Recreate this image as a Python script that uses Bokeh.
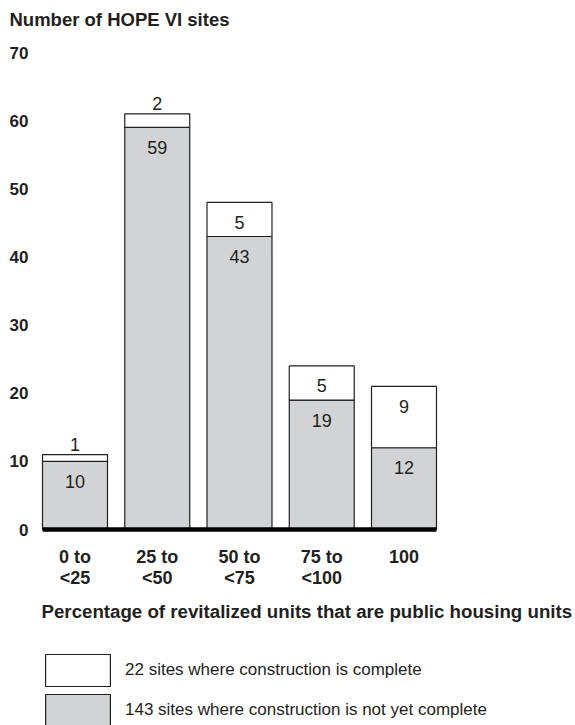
from bokeh.plotting import figure
from bokeh.models import Range1d, ColumnDataSource, Label, Legend, LegendItem
from bokeh.core.properties import value
from bokeh.embed import file_html
from bokeh.resources import INLINE

# ---- data ----
categories = ["0 to\n<25", "25 to\n<50", "50 to\n<75", "75 to\n<100", "100"]
not_complete = [10, 59, 43, 19, 12]
complete = [1, 2, 5, 5, 9]
y_ticks = [0, 10, 20, 30, 40, 50, 60, 70]
y_title = "Number of HOPE VI sites"
x_title = "Percentage of revitalized units that are public housing units"
legend_complete = f"{sum(complete)} sites where construction is complete"
legend_not_complete = f"{sum(not_complete)} sites where construction is not yet complete"

# ---- style ----
FONT = "Liberation Sans"
INK = "#231f20"
GRAY = "#d1d3d4"
W, H = 575, 725
PX_X = 82.25          # pixels per category step
PX_Y = 6.814          # pixels per site
ZERO_PX_FROM_TOP = 529
X0 = -74.5 / PX_X
Y0 = -(H - ZERO_PX_FROM_TOP) / PX_Y
BAR_W = 0.79

p = figure(width=W, height=H,
           x_range=Range1d(X0, X0 + W / PX_X),
           y_range=Range1d(Y0, Y0 + H / PX_Y),
           x_axis_type=None, y_axis_type=None,
           toolbar_location=None, output_backend="svg",
           min_border=0, outline_line_color=None)
p.background_fill_color = "white"
p.border_fill_color = "white"

xs = list(range(len(categories)))
tops = [a + b for a, b in zip(not_complete, complete)]
c_offsets = [20 if c >= 3 else -10 for c in complete]
src = ColumnDataSource(dict(
    x=xs, nc=not_complete, top=tops, c=complete,
    nc_label=[str(v) for v in not_complete],
    c_label=[str(v) for v in complete],
    c_off=c_offsets,
    line1=[c.split("\n")[0] for c in categories],
    line2=[c.split("\n")[1] if "\n" in c else "" for c in categories],
))

r_nc = p.vbar(x="x", bottom=0, top="nc", width=BAR_W, source=src,
              fill_color=GRAY, line_color=INK, line_width=1.2)
r_c = p.vbar(x="x", bottom="nc", top="top", width=BAR_W, source=src,
             fill_color="white", line_color=INK, line_width=1.2)

# baseline
p.segment(x0=xs[0] - BAR_W / 2, y0=0, x1=xs[-1] + BAR_W / 2, y1=0,
          line_color="black", line_width=4.5, line_cap="butt")

# value labels
p.text(x="x", y="nc", text="nc_label", source=src, y_offset=20,
       text_align="center", text_baseline="middle",
       text_font=value(FONT), text_font_size="18px", text_color=INK)
p.text(x="x", y="top", text="c_label", source=src, y_offset="c_off",
       text_align="center", text_baseline="middle",
       text_font=value(FONT), text_font_size="18px", text_color=INK)

# category labels
p.text(x="x", y=0, text="line1", source=src, y_offset=27,
       text_align="center", text_baseline="middle",
       text_font=value(FONT), text_font_style="bold",
       text_font_size="18px", text_color=INK)
p.text(x="x", y=0, text="line2", source=src, y_offset=48,
       text_align="center", text_baseline="middle",
       text_font=value(FONT), text_font_style="bold",
       text_font_size="18px", text_color=INK)

# y tick labels
p.text(x=[X0 + 28 / PX_X] * len(y_ticks), y=y_ticks,
       text=[str(t) for t in y_ticks],
       text_align="right", text_baseline="middle",
       text_font=value(FONT), text_font_style="bold",
       text_font_size="17px", text_color=INK)

# titles
p.add_layout(Label(x=9, y=H - 19, x_units="screen", y_units="screen",
                   text=y_title, text_baseline="alphabetic",
                   text_font=FONT, text_font_style="bold",
                   text_font_size="18.5px", text_color=INK))
p.add_layout(Label(x=41, y=H - 611, x_units="screen", y_units="screen",
                   text=x_title, text_baseline="middle",
                   text_font=FONT, text_font_style="bold",
                   text_font_size="18.7px", text_color=INK))

legend = Legend(items=[LegendItem(label=legend_complete, renderers=[r_c]),
                       LegendItem(label=legend_not_complete, renderers=[r_nc])],
                location=(37, H - 650 - 80), orientation="vertical",
                glyph_width=81, glyph_height=40, label_height=40,
                spacing=0, padding=0, margin=0, label_standoff=7,
                label_text_font=FONT, label_text_font_size="17px",
                label_text_color=INK, border_line_color=None,
                background_fill_alpha=0)
p.add_layout(legend)

open("out.html", "w").write(file_html(p, INLINE))
